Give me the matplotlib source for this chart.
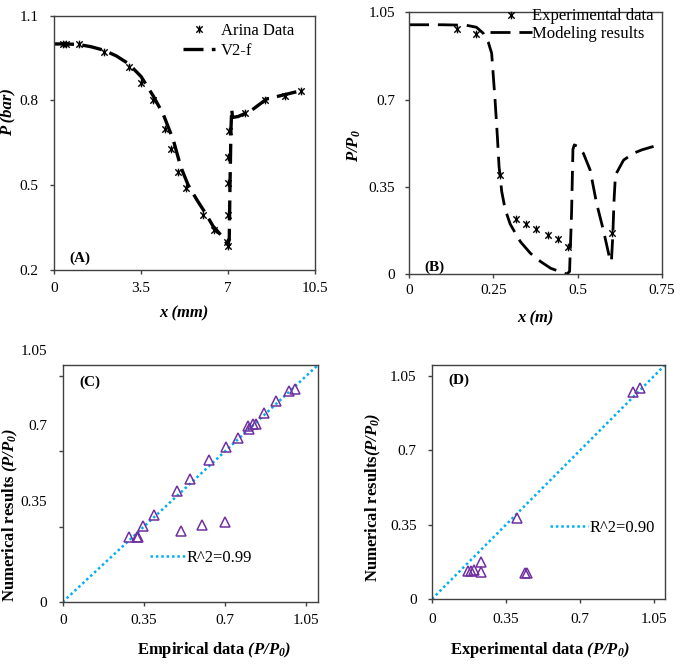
import matplotlib
matplotlib.use('Agg')
import matplotlib.pyplot as plt
import matplotlib.transforms as mtransforms
from matplotlib.path import Path

plt.rcParams['font.family'] = ['Liberation Serif', 'DejaVu Serif']
plt.rcParams['mathtext.fontset'] = 'custom'
plt.rcParams['mathtext.rm'] = 'Liberation Serif'
plt.rcParams['mathtext.it'] = 'Liberation Serif:italic'
plt.rcParams['mathtext.bf'] = 'Liberation Serif:bold'
plt.rcParams['mathtext.bfit'] = 'Liberation Serif:bold:italic'

# ---------------- data ----------------
# Panel A
a_exp_x = [0.35, 0.5, 1.0, 2.0, 3.0, 3.5, 4.0, 4.45, 4.7, 5.0, 5.3, 6.0, 6.45,
           6.97, 7.0, 7.0, 7.02, 7.02, 7.03, 7.7, 8.5, 9.3, 9.95]
a_exp_y = [1.0, 1.0, 1.0, 0.973, 0.92, 0.863, 0.80, 0.70, 0.628, 0.548, 0.489,
           0.395, 0.342, 0.30, 0.285, 0.395, 0.507, 0.60, 0.692, 0.755, 0.802,
           0.817, 0.835]
a_mod_x = [0, 0.5, 1.0, 1.5, 2.0, 2.5, 3.0, 3.5, 4.0, 4.4, 4.8, 5.1, 5.4, 5.75,
           6.1, 6.4, 6.7, 6.95, 7.0, 7.05, 7.08, 7.12, 7.15, 7.18, 7.4, 7.9,
           8.55, 9.35, 9.95]
a_mod_y = [1.0, 1.0, 0.998, 0.99, 0.978, 0.958, 0.93, 0.885, 0.815, 0.75, 0.66,
           0.565, 0.50, 0.448, 0.40, 0.355, 0.325, 0.295, 0.29, 0.31, 0.50,
           0.70, 0.77, 0.74, 0.743, 0.762, 0.805, 0.822, 0.835]

# Panel B
b_exp_x = [0.141, 0.20, 0.27, 0.316, 0.346, 0.376, 0.413, 0.443, 0.472, 0.601]
b_exp_y = [0.982, 0.962, 0.397, 0.219, 0.20, 0.179, 0.155, 0.139, 0.11, 0.166]
b_mod_x = [0, 0.1, 0.17, 0.2, 0.22, 0.235, 0.245, 0.255, 0.262, 0.267, 0.275,
           0.285, 0.30, 0.33, 0.36, 0.39, 0.42, 0.45, 0.468, 0.476, 0.482,
           0.486, 0.49, 0.50, 0.517, 0.537, 0.556, 0.576, 0.596, 0.60, 0.604,
           0.608, 0.612, 0.636, 0.665, 0.69, 0.725]
b_mod_y = [1.0, 1.0, 0.998, 0.99, 0.966, 0.93, 0.886, 0.70, 0.55, 0.43, 0.33,
           0.26, 0.20, 0.13, 0.083, 0.05, 0.023, 0.008, 0.0, 0.01, 0.25,
           0.50, 0.518, 0.512, 0.484, 0.417, 0.284, 0.177, 0.056, 0.05, 0.15,
           0.30, 0.397, 0.457, 0.484, 0.498, 0.512]

# Panel C
c_emp = [0.285, 0.318, 0.324, 0.344, 0.394, 0.493, 0.548, 0.631, 0.702, 0.755,
         0.800, 0.803, 0.820, 0.835, 0.867, 0.921, 0.974, 1.0,
         0.508, 0.601, 0.699]
c_num = [0.300, 0.303, 0.303, 0.352, 0.402, 0.516, 0.573, 0.658, 0.720, 0.759,
         0.817, 0.802, 0.824, 0.824, 0.878, 0.933, 0.980, 0.990,
         0.329, 0.357, 0.372]

# Panel D
d_exp = [0.171, 0.182, 0.199, 0.231, 0.229, 0.399, 0.440, 0.449, 0.948, 0.980]
d_num = [0.132, 0.132, 0.137, 0.174, 0.125, 0.379, 0.123, 0.123, 0.974, 0.993]

diag_x = [0, 1.1]
diag_y = [0, 1.1]

ticks_a_x = [0, 3.5, 7, 10.5]
ticks_a_y = [0.2, 0.5, 0.8, 1.1]
ticks_b_x = [0, 0.25, 0.5, 0.75]
ticks_pp = [0, 0.35, 0.7, 1.05]
lab_a_x = ['0', '3.5', '7', '10.5']
lab_a_y = ['0.2', '0.5', '0.8', '1.1']
lab_b_x = ['0', '0.25', '0.5', '0.75']
lab_pp = ['0', '0.35', '0.7', '1.05']

# ---------------- style ----------------
W, H = 685, 664
fig = plt.figure(figsize=(W / 100, H / 100), dpi=100)

def ax_px(left, top, right, bottom):
    return fig.add_axes([left / W, 1 - bottom / H, (right - left) / W, (bottom - top) / H])

def ftxt(x, y, s, **kw):
    fig.text(x / W, 1 - y / H, s, ha='center', va='center', **kw)

star = Path([(-1, -1), (1, 1), (-1, 1), (1, -1), (0, -1.2), (0, 1.2)],
            [Path.MOVETO, Path.LINETO, Path.MOVETO, Path.LINETO, Path.MOVETO, Path.LINETO])

SPC = '#404040'
TICK_FS = 11
PURPLE = '#7030A0'
BLUE = '#00B0F0'
DOT = (0, (1, 1.15))

def style(ax, ypad=8, xpad=6):
    for s in ax.spines.values():
        s.set_color(SPC)
        s.set_linewidth(1.0)
    ax.tick_params(direction='out', length=3, width=1, color=SPC, labelsize=TICK_FS)
    ax.tick_params(axis='y', pad=ypad)
    ax.tick_params(axis='x', pad=xpad)

# ---------------- Panel A ----------------
axA = ax_px(54, 15.7, 315, 270)
axA.plot(a_mod_x, a_mod_y, color='black', lw=2.4, dashes=(6, 2.5), label='V2-f', zorder=2)
axA.plot(a_exp_x, a_exp_y, linestyle='none', marker=star, ms=5.5, mew=1.0,
         color='black', label='Arina Data', zorder=3)
axA.set_xlim(0, 10.5)
axA.set_ylim(0.2, 1.1)
axA.set_xticks(ticks_a_x, lab_a_x)
axA.set_yticks(ticks_a_y, lab_a_y)
style(axA, ypad=8, xpad=6)
h, l = axA.get_legend_handles_labels()
axA.legend([h[1], h[0]], [l[1], l[0]], loc='upper left', bbox_to_anchor=(0.494, 0.973),
           frameon=False, borderpad=0, borderaxespad=0, handlelength=1.9,
           handletextpad=0.4, labelspacing=0.25, fontsize=12, numpoints=1)

# ---------------- Panel B ----------------
axB = ax_px(409, 12.3, 662, 274)
axB.plot(b_mod_x, b_mod_y, color='black', lw=2.0, dashes=(7.2, 3.2), label='Modeling results', zorder=2)
axB.plot(b_exp_x, b_exp_y, linestyle='none', marker=star, ms=5.5, mew=1.0,
         color='black', label='Experimental data', zorder=3)
axB.set_xlim(0, 0.75)
axB.set_ylim(0, 1.05)
axB.set_xticks(ticks_b_x, lab_b_x)
axB.set_yticks(ticks_pp, lab_pp)
style(axB, ypad=7, xpad=4)
h, l = axB.get_legend_handles_labels()
axB.legend([h[1], h[0]], [l[1], l[0]], loc='upper left', bbox_to_anchor=(0.32, 1.015),
           frameon=False, borderpad=0, borderaxespad=0, handlelength=2.5,
           handletextpad=0.05, labelspacing=0.08, fontsize=12, numpoints=1)

# ---------------- Panel C ----------------
axC = ax_px(62.7, 365, 318, 602)
axC.plot(diag_x, diag_y, color=BLUE, lw=1.8, linestyle=DOT, label='R^2=0.99', zorder=2)
axC.plot(c_emp, c_num, linestyle='none', marker='^', ms=6.5, mfc='none', mec=PURPLE,
         mew=1.1, zorder=3)
axC.set_xlim(0, 1.1)
axC.set_ylim(0, 1.1)
axC.set_xticks(ticks_pp, lab_pp)
axC.set_yticks(ticks_pp, lab_pp)
style(axC, ypad=8, xpad=6)
off = mtransforms.ScaledTranslation(0, 26 / 100, fig.dpi_scale_trans)
for lab in axC.get_yticklabels()[1:]:
    lab.set_transform(lab.get_transform() + off)
axC.legend(loc='center left', bbox_to_anchor=(0.342, 0.186), frameon=False, borderpad=0,
           borderaxespad=0, handlelength=2.1, handletextpad=0.1, fontsize=12)

# ---------------- Panel D ----------------
axD = ax_px(432, 365, 665, 599)
axD.plot(diag_x, diag_y, color=BLUE, lw=1.8, linestyle=DOT, label='R^2=0.90', zorder=2)
axD.plot(d_exp, d_num, linestyle='none', marker='^', ms=6.5, mfc='none', mec=PURPLE,
         mew=1.1, zorder=3)
axD.set_xlim(0, 1.1)
axD.set_ylim(0, 1.1)
axD.set_xticks(ticks_pp, lab_pp)
axD.set_yticks(ticks_pp, lab_pp)
style(axD, ypad=8, xpad=7)
axD.legend(loc='center left', bbox_to_anchor=(0.506, 0.303), frameon=False, borderpad=0,
           borderaxespad=0, handlelength=2.3, handletextpad=0.1, fontsize=12)

# ---------------- labels ----------------
ftxt(80, 258, '(A)', fontsize=11, fontweight='bold')
ftxt(434, 267, '(B)', fontsize=11, fontweight='bold')
ftxt(90, 382, '(C)', fontsize=11, fontweight='bold')
ftxt(459, 380, '(D)', fontsize=11, fontweight='bold')

ftxt(7, 112, 'P (bar)', fontsize=12, fontweight='bold', fontstyle='italic', rotation=90)
ftxt(354, 146, r'$\mathbfit{P/P_0}$', fontsize=12, rotation=90)
ftxt(184, 313, 'x (mm)', fontsize=12, fontweight='bold', fontstyle='italic')
ftxt(535, 318, 'x (m)', fontsize=12, fontweight='bold', fontstyle='italic')

ftxt(10, 515, r'Numerical results $\mathbfit{(P/P_0)}$', fontsize=12, fontweight='bold', rotation=90)
ftxt(373, 497, r'Numerical results$\mathbfit{(P/P_0)}$', fontsize=12, fontweight='bold', rotation=90)
ftxt(214, 650, r'Empirical data $\mathbfit{(P/P_0)}$', fontsize=12, fontweight='bold')
ftxt(540, 650, r'Experimental data $\mathbfit{(P/P_0)}$', fontsize=12, fontweight='bold')

fig.savefig('out.png', dpi=100)
